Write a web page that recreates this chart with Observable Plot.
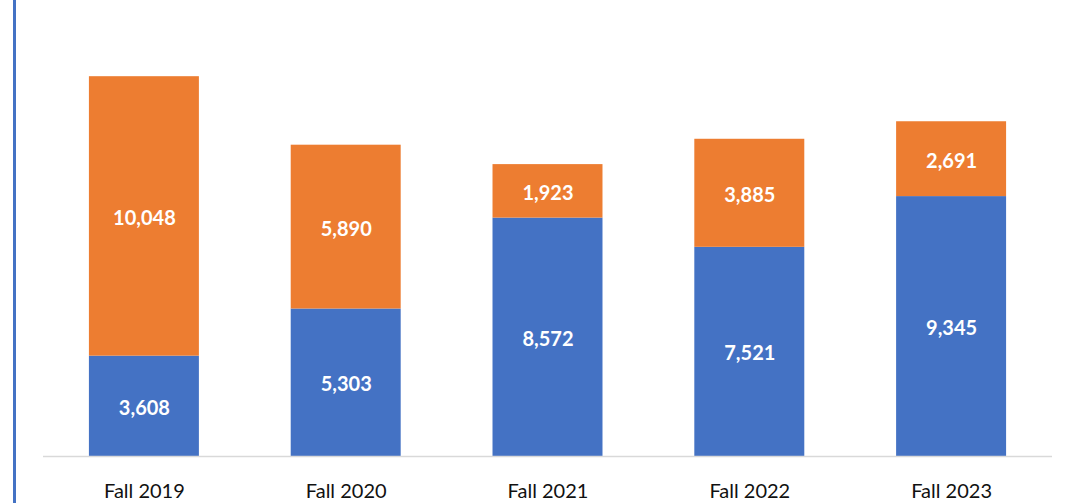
<!DOCTYPE html>
<html>
<head>
<meta charset="utf-8">
<script src="https://cdn.jsdelivr.net/npm/d3@7"></script>
<script src="https://cdn.jsdelivr.net/npm/@observablehq/plot@0.6"></script>
<style>
  html, body { margin: 0; padding: 0; background: #fff; }
  #wrap { position: relative; width: 1071px; height: 503px; overflow: hidden; }
  #border { position: absolute; left: 13px; top: 0; width: 3px; height: 503px; background: #4472C4; }
  svg { display: block; }
</style>
</head>
<body>
<div id="wrap"><div id="border"></div></div>
<script>
const categories = ["Fall 2019", "Fall 2020", "Fall 2021", "Fall 2022", "Fall 2023"];
const seriesNames = ["Series 1", "Series 2"];
const series1Values = [3608, 5303, 8572, 7521, 9345];
const series2Values = [10048, 5890, 1923, 3885, 2691];
const seriesColors = ["#4472C4", "#ED7D31"];

const rows = [];
categories.forEach((c, i) => rows.push({category: c, series: seriesNames[0], value: series1Values[i]}));
categories.forEach((c, i) => rows.push({category: c, series: seriesNames[1], value: series2Values[i]}));

const font = "Lato, 'Open Sans', sans-serif";
const fmt = d3.format(",");

const chart = Plot.plot({
  width: 1071,
  height: 503,
  marginLeft: 43,
  marginRight: 19,
  marginTop: 11,
  marginBottom: 47,
  style: {fontFamily: font, background: "transparent"},
  x: {domain: categories, paddingInner: 0.455, paddingOuter: 0.2275, round: false, label: null},
  y: {domain: [0, 16000], axis: null},
  color: {domain: seriesNames, range: seriesColors},
  marks: [
    Plot.barY(rows, {x: "category", y: "value", fill: "series"}),
    Plot.text(rows, Plot.stackY({
      x: "category", y: "value", z: "series",
      text: d => fmt(d.value),
      fill: "white", fontSize: 20, fontWeight: "bold", fontFamily: font, dy: 2
    })),
    Plot.ruleY([0], {stroke: "#d9d9d9", strokeWidth: 1.5}),
    Plot.axisX({tickSize: 0, tickPadding: 27, fontSize: 20, fontFamily: font, fill: "#111", label: null})
  ]
});
chart.style.position = "absolute";
chart.style.left = "0px";
chart.style.top = "0px";
document.getElementById("wrap").prepend(chart);
</script>
</body>
</html>
